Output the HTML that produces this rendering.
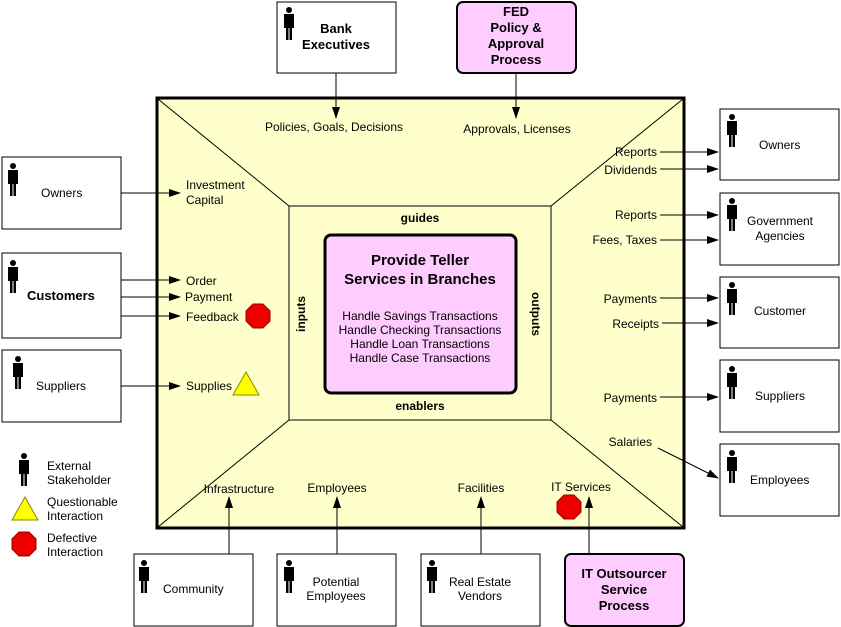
<!DOCTYPE html>
<html><head><meta charset="utf-8"><style>
body{margin:0;background:#fff}
svg{display:block;font-family:"Liberation Sans",Arial,sans-serif}
</style></head><body>
<svg width="841" height="627" viewBox="0 0 841 627" xmlns="http://www.w3.org/2000/svg">
<defs>
<marker id="a" markerWidth="12" markerHeight="8" refX="11" refY="4" orient="auto" markerUnits="userSpaceOnUse"><path d="M0,0 L12,4 L0,8 z" fill="#000"/></marker>
<g id="p"><circle cx="0" cy="-14" r="3" fill="#000"/><path d="M-5,-10 h10 v14 h-2 v12 h-2.5 v-12 h-1 v12 h-2.5 v-12 h-2 z" fill="#000"/></g>
<g id="oct"><polygon points="-5,-12 5,-12 12,-5 12,5 5,12 -5,12 -12,5 -12,-5" fill="#e00" stroke="#900" stroke-width="1"/></g>
<g id="tri"><polygon points="0,-12 13,11 -13,11" fill="#ff0" stroke="#880" stroke-width="1"/></g>
</defs>
<rect x="157" y="98" width="527" height="430" fill="#ffffcc" stroke="#000" stroke-width="3"/>
<g stroke="#000" stroke-width="1">
<line x1="158" y1="99" x2="289" y2="206"/><line x1="683" y1="99" x2="551" y2="206"/>
<line x1="158" y1="527" x2="289" y2="420"/><line x1="683" y1="527" x2="551" y2="420"/>
</g>
<rect x="289" y="206" width="262" height="214" fill="#ffffcc" stroke="#000"/>
<rect x="325" y="235" width="191" height="158" rx="6" fill="#ffccff" stroke="#000" stroke-width="3"/>
<g font-size="12" text-anchor="middle">
<text x="420" y="265" font-size="15" font-weight="bold">Provide Teller</text>
<text x="420" y="284" font-size="15" font-weight="bold">Services in Branches</text>
<text x="420" y="320">Handle Savings Transactions</text>
<text x="420" y="334">Handle Checking Transactions</text>
<text x="420" y="348">Handle Loan Transactions</text>
<text x="420" y="362">Handle Case Transactions</text>
<text x="420" y="222" font-weight="bold">guides</text>
<text x="420" y="410" font-weight="bold">enablers</text>
<text transform="translate(305,314) rotate(-90)" font-weight="bold">inputs</text>
<text transform="translate(532,314) rotate(90)" font-weight="bold">outputs</text>
</g>
<g fill="#fff" stroke="#000">
<rect x="2" y="157" width="119" height="72"/><rect x="2" y="253" width="119" height="85"/><rect x="2" y="350" width="119" height="72"/>
<rect x="720" y="109" width="119" height="71"/><rect x="720" y="193" width="119" height="72"/><rect x="720" y="277" width="119" height="71"/>
<rect x="720" y="360" width="119" height="72"/><rect x="720" y="444" width="119" height="72"/>
<rect x="277" y="2" width="119" height="71"/>
<rect x="134" y="554" width="119" height="72"/><rect x="277" y="554" width="119" height="72"/><rect x="421" y="554" width="119" height="72"/>
</g>
<rect x="457" y="2" width="119" height="71" rx="6" fill="#ffccff" stroke="#000" stroke-width="2"/>
<rect x="565" y="554" width="119" height="72" rx="6" fill="#ffccff" stroke="#000" stroke-width="2"/>
<g>
<use href="#p" x="13" y="180"/><use href="#p" x="13" y="277"/><use href="#p" x="18" y="373"/>
<use href="#p" x="732" y="131"/><use href="#p" x="732" y="215"/><use href="#p" x="732" y="299"/><use href="#p" x="732" y="383"/><use href="#p" x="732" y="467"/>
<use href="#p" x="289" y="24"/><use href="#p" x="144" y="577"/><use href="#p" x="289" y="577"/><use href="#p" x="432" y="577"/>
<use href="#p" x="24" y="470"/>
</g>
<g font-size="12">
<text x="41" y="197">Owners</text>
<text x="27" y="300" font-size="13" font-weight="bold">Customers</text>
<text x="36" y="390">Suppliers</text>
<text x="759" y="149">Owners</text>
<text x="780" y="225" text-anchor="middle">Government</text><text x="780" y="240" text-anchor="middle">Agencies</text>
<text x="754" y="315">Customer</text>
<text x="755" y="400">Suppliers</text>
<text x="750" y="484">Employees</text>
<text x="336" y="33" text-anchor="middle" font-size="13" font-weight="bold">Bank</text>
<text x="336" y="49" text-anchor="middle" font-size="13" font-weight="bold">Executives</text>
<g text-anchor="middle" font-size="13" font-weight="bold"><text x="516" y="16">FED</text><text x="516" y="32">Policy &amp;</text><text x="516" y="48">Approval</text><text x="516" y="64">Process</text>
<text x="624" y="578">IT Outsourcer</text><text x="624" y="594">Service</text><text x="624" y="610">Process</text></g>
<text x="163" y="593">Community</text>
<text x="336" y="586" text-anchor="middle">Potential</text><text x="336" y="600" text-anchor="middle">Employees</text>
<text x="480" y="586" text-anchor="middle">Real Estate</text><text x="480" y="600" text-anchor="middle">Vendors</text>
<text x="186" y="189">Investment</text><text x="186" y="204">Capital</text>
<text x="186" y="285">Order</text><text x="185" y="301">Payment</text><text x="186" y="321">Feedback</text>
<text x="186" y="390">Supplies</text>
<text x="334" y="131" text-anchor="middle">Policies, Goals, Decisions</text>
<text x="517" y="133" text-anchor="middle">Approvals, Licenses</text>
<g text-anchor="end"><text x="657" y="156">Reports</text><text x="657" y="174">Dividends</text><text x="657" y="219">Reports</text><text x="657" y="244">Fees, Taxes</text>
<text x="657" y="303">Payments</text><text x="659" y="328">Receipts</text><text x="657" y="402">Payments</text><text x="652" y="446">Salaries</text></g>
<text x="239" y="493" text-anchor="middle">Infrastructure</text>
<text x="337" y="492" text-anchor="middle">Employees</text>
<text x="481" y="492" text-anchor="middle">Facilities</text>
<text x="581" y="491" text-anchor="middle">IT Services</text>
<text x="47" y="470">External</text><text x="47" y="484">Stakeholder</text>
<text x="47" y="506">Questionable</text><text x="47" y="520">Interaction</text>
<text x="47" y="542">Defective</text><text x="47" y="556">Interaction</text>
</g>
<g stroke="#000" stroke-width="1" marker-end="url(#a)">
<line x1="121" y1="193" x2="180" y2="193"/>
<line x1="121" y1="280" x2="180" y2="280"/><line x1="121" y1="297" x2="180" y2="297"/><line x1="121" y1="316" x2="180" y2="316"/>
<line x1="121" y1="386" x2="180" y2="386"/>
<line x1="336" y1="73" x2="336" y2="118"/><line x1="516" y1="73" x2="516" y2="118"/>
<line x1="660" y1="152" x2="718" y2="152"/><line x1="660" y1="169" x2="718" y2="169"/>
<line x1="660" y1="215" x2="718" y2="215"/><line x1="660" y1="240" x2="718" y2="240"/>
<line x1="660" y1="298" x2="718" y2="298"/><line x1="662" y1="323" x2="718" y2="323"/>
<line x1="660" y1="397" x2="718" y2="397"/><line x1="658" y1="448" x2="718" y2="478"/>
<line x1="229" y1="554" x2="229" y2="497"/><line x1="337" y1="554" x2="337" y2="497"/>
<line x1="481" y1="554" x2="481" y2="497"/><line x1="589" y1="554" x2="589" y2="497"/>
</g>
<use href="#oct" x="258" y="316"/><use href="#tri" x="246" y="384"/><use href="#oct" x="569" y="507"/>
<use href="#tri" x="25" y="509"/><use href="#oct" x="24" y="544"/>
</svg>
</body></html>
